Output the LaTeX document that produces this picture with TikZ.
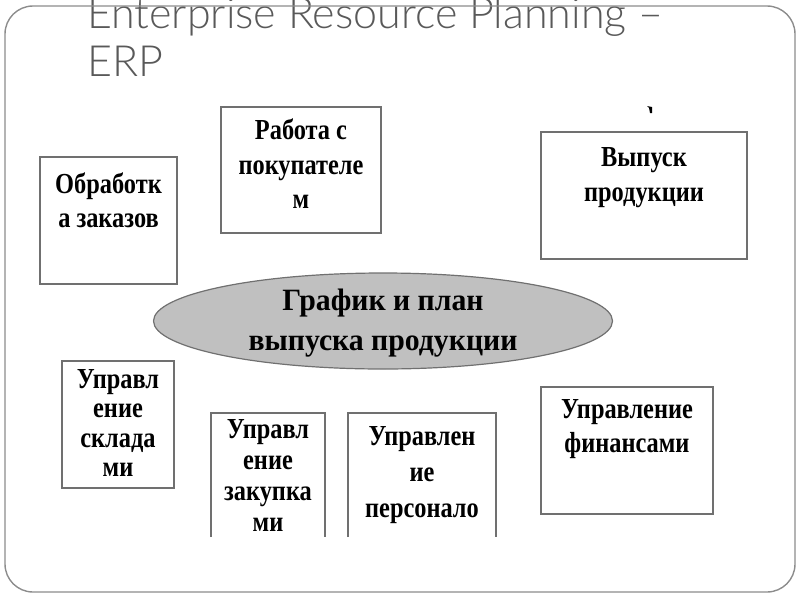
\documentclass[tikz,border=0pt]{standalone}
\usepackage{fontspec}
\setmainfont{Liberation Serif}
\newfontfamily\titlefont{Lato Light}
\usetikzlibrary{shapes.geometric}
\definecolor{titlegray}{HTML}{595959}
\definecolor{framegray}{HTML}{8C8C8C}
\definecolor{boxgray}{HTML}{707070}
\definecolor{ellfill}{HTML}{C0C0C0}
\begin{document}
\begin{tikzpicture}[x=1pt,y=-1pt,
  box/.style={draw=boxgray, line width=1.2pt, inner sep=0pt, outer sep=0pt},
  openbox/.style={draw=boxgray, line width=1.2pt},
  lbl/.style={font=\fontsize{29}{34}\selectfont\bfseries, align=center, inner sep=0pt, anchor=north, xscale=0.84, transform shape},
  elbl/.style={font=\fontsize{31}{40}\selectfont\bfseries, align=center, inner sep=0pt, anchor=center, xscale=0.96, transform shape},
  ell/.style={ellipse, draw=boxgray, fill=ellfill, line width=1.2pt, inner sep=0pt},
  frame/.style={draw=framegray, line width=1.4pt, rounded corners=28pt}]
\useasboundingbox (0,0) rectangle (800,600);
% title
\node[font=\titlefont\fontsize{43}{48}\selectfont, text=titlegray, align=left, anchor=base west, inner sep=0pt] (title) at (87,76) {Enterprise Resource Planning –\\ERP};
% frame
\draw[frame] (5,6) rectangle (795,592);
% boxes
\node[box, minimum width=137pt, minimum height=127pt] (b1) at (108.5,220.5) {};
\node[lbl] (t1) at ([yshift=-16pt]b1.north) {Обработк\\а заказов};
\node[box, minimum width=160pt, minimum height=126pt] (b2) at (301,170) {};
\node[lbl, font=\fontsize{29}{34.5}\selectfont\bfseries] (t2) at ([yshift=-12pt]b2.north) {Работа с\\покупателе\\м};
\node[box, minimum width=206pt, minimum height=127pt] (b3) at (644,195.5) {};
\node[lbl, font=\fontsize{29}{35}\selectfont\bfseries] (t3) at ([yshift=-15pt]b3.north) {Выпуск\\продукции};
\node[box, minimum width=112pt, minimum height=127pt] (b5) at (118,424.5) {};
\node[lbl, font=\fontsize{29}{29.5}\selectfont\bfseries] (t5) at ([yshift=-8pt]b5.north) {Управл\\ение\\склада\\ми};
\node[box, minimum width=172pt, minimum height=127pt] (b8) at (627,450.5) {};
\node[lbl, font=\fontsize{29}{34}\selectfont\bfseries] (t8) at ([yshift=-12pt]b8.north) {Управление\\финансами};
% open-bottom boxes
\coordinate (b6bl) at (211,537);
\coordinate (b6tl) at (211,413);
\coordinate (b6tr) at (325,413);
\coordinate (b6br) at (325,537);
\draw[openbox] (b6bl) -- (b6tl) -- (b6tr) -- (b6br);
\node[lbl, font=\fontsize{29}{31}\selectfont\bfseries] (t6) at (268,419) {Управл\\ение\\закупка\\ми};
\coordinate (b7bl) at (348,537);
\coordinate (b7tl) at (348,413);
\coordinate (b7tr) at (496,413);
\coordinate (b7br) at (496,537);
\draw[openbox] (b7bl) -- (b7tl) -- (b7tr) -- (b7br);
\node[lbl, font=\fontsize{29}{36}\selectfont\bfseries] (t7) at (422,426) {Управлен\\ие\\персонало};
% ellipse
\node[ell, minimum width=459pt, minimum height=96pt] (e) at (383,321) {};
\node[elbl] (te) at ([yshift=-2pt]e.center) {График и план\\выпуска продукции};
% stray mark
\fill (647,106) -- (652,107) -- (652,113) -- (650,113) -- (649,108) -- cycle;
\end{tikzpicture}
\end{document}
